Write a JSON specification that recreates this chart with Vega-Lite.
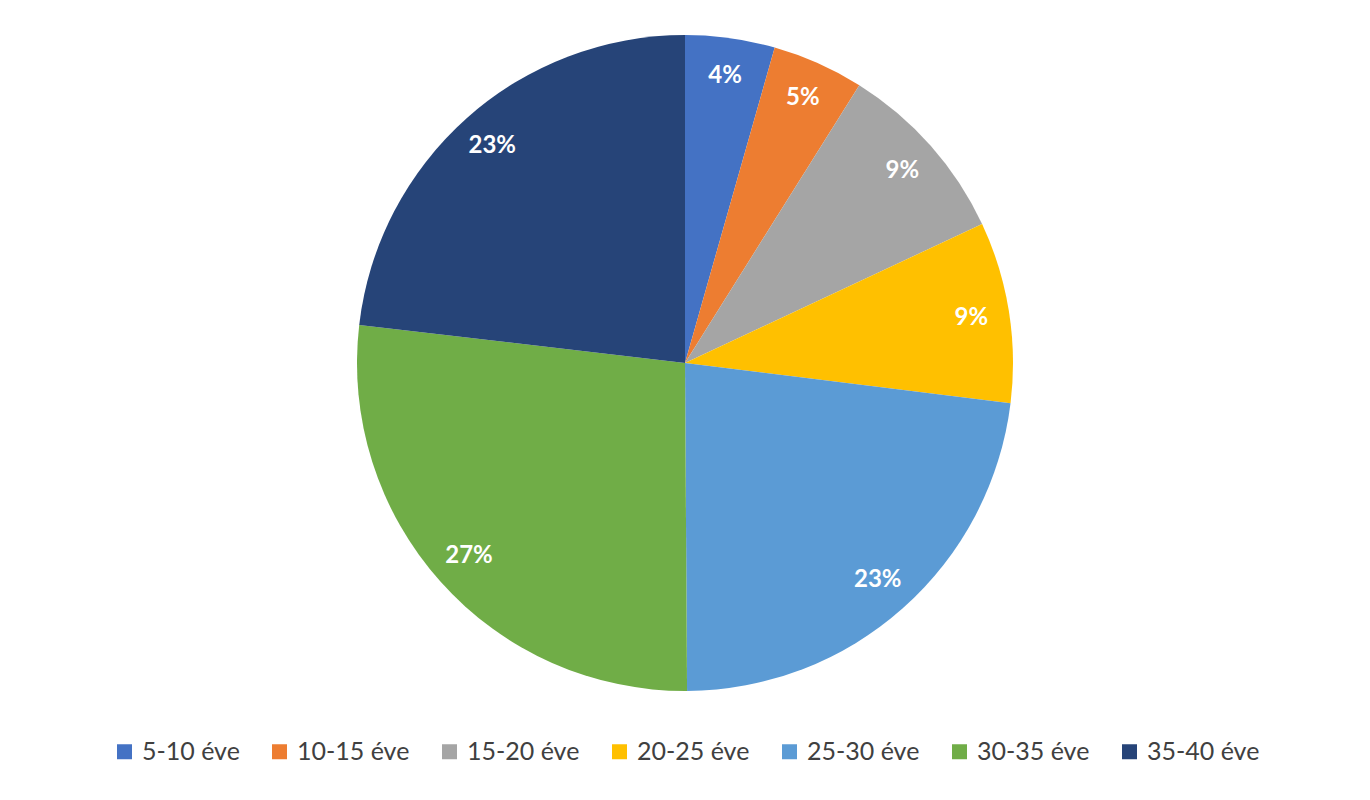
{
  "$schema": "https://vega.github.io/schema/vega-lite/v6.json",
  "width": 1370,
  "height": 726,
  "autosize": {"type": "none"},
  "padding": {"top": 0, "left": 0, "right": 0, "bottom": 74},
  "background": "white",
  "config": {"view": {"stroke": null}},
  "data": {
    "values": [
      {"idx": 1, "cat": "5-10 éve", "value": 4.4, "label": "4%"},
      {"idx": 2, "cat": "10-15 éve", "value": 4.5, "label": "5%"},
      {"idx": 3, "cat": "15-20 éve", "value": 9.1, "label": "9%"},
      {"idx": 4, "cat": "20-25 éve", "value": 8.9, "label": "9%"},
      {"idx": 5, "cat": "25-30 éve", "value": 22.9, "label": "23%"},
      {"idx": 6, "cat": "30-35 éve", "value": 26.9, "label": "27%"},
      {"idx": 7, "cat": "35-40 éve", "value": 23.1, "label": "23%"}
    ]
  },
  "encoding": {
    "theta": {"field": "value", "type": "quantitative", "stack": true},
    "order": {"field": "idx", "type": "quantitative"}
  },
  "layer": [
    {
      "mark": {"type": "arc", "outerRadius": 328},
      "encoding": {
        "color": {
          "field": "cat",
          "type": "nominal",
          "scale": {
            "domain": ["5-10 éve", "10-15 éve", "15-20 éve", "20-25 éve", "25-30 éve", "30-35 éve", "35-40 éve"],
            "range": ["#4472C4", "#ED7D31", "#A5A5A5", "#FFC000", "#5B9BD5", "#70AD47", "#264478"]
          },
          "legend": {
            "title": null,
            "orient": "none",
            "legendX": 112,
            "legendY": 739,
            "direction": "horizontal",
            "columns": 7,
            "symbolType": "square",
            "symbolSize": 225,
            "symbolStrokeWidth": 0,
            "labelFont": "Lato",
            "labelFontSize": 25,
            "labelColor": "#404040",
            "labelOffset": 5,
            "columnPadding": 27,
            "labelLimit": 300
          }
        }
      }
    },
    {
      "mark": {"type": "text", "radius": 290, "font": "Lato", "fontSize": 24, "fontWeight": "bold", "fill": "white"},
      "encoding": {
        "text": {"field": "label", "type": "nominal"}
      }
    }
  ]
}
